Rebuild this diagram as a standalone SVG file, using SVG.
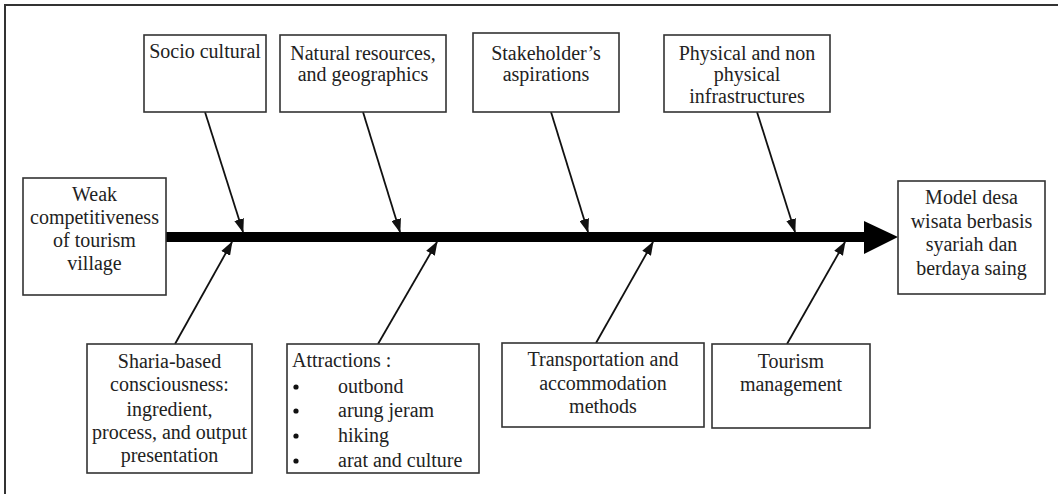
<svg xmlns="http://www.w3.org/2000/svg" width="1058" height="494" viewBox="0 0 1058 494">
<defs>
<style>
.box{fill:#fff;stroke:#333;stroke-width:1.6}
.t{font-family:'Liberation Serif','DejaVu Serif',serif;font-size:20px;fill:#222;text-anchor:middle}
.l{font-family:'Liberation Serif','DejaVu Serif',serif;font-size:20px;fill:#222}
.c{stroke:#111;stroke-width:1.8;fill:none;marker-end:url(#ah)}
</style>
<marker id="ah" markerWidth="14" markerHeight="10" refX="13" refY="5" orient="auto" markerUnits="userSpaceOnUse">
<path d="M0,0 L14,5 L0,10 Z" fill="#111"/>
</marker>
</defs>
<rect width="1058" height="494" fill="#fff"/>
<path d="M5,494 L5,5 L1058,5" fill="none" stroke="#333" stroke-width="2"/>
<g id="connectors">
<rect x="166" y="232" width="700" height="10" fill="#000"/>
<polygon points="864,221 898,237 864,254" fill="#000"/>
<line class="c" x1="205" y1="112" x2="243" y2="232"/>
<line class="c" x1="363" y1="112" x2="400" y2="232"/>
<line class="c" x1="551" y1="112" x2="588" y2="232"/>
<line class="c" x1="757" y1="112" x2="795" y2="232"/>
<line class="c" x1="175" y1="344" x2="232" y2="242"/>
<line class="c" x1="378" y1="344" x2="437" y2="242"/>
<line class="c" x1="596" y1="343" x2="653" y2="242"/>
<line class="c" x1="787" y1="344" x2="845" y2="242"/>
</g>
<g id="socio">
<rect class="box" x="144" y="35" width="122" height="77"/>
<text class="t" x="205" y="58">Socio cultural</text>
</g>
<g id="natural">
<rect class="box" x="280" y="35" width="166" height="77"/>
<text class="t" x="363" y="60">Natural resources,</text>
<text class="t" x="363" y="81">and geographics</text>
</g>
<g id="stakeholder">
<rect class="box" x="473" y="33" width="146" height="79"/>
<text class="t" x="546" y="60">Stakeholder’s</text>
<text class="t" x="546" y="81">aspirations</text>
</g>
<g id="physical">
<rect class="box" x="664" y="35" width="166" height="77"/>
<text class="t" x="747" y="60">Physical and non</text>
<text class="t" x="747" y="81">physical</text>
<text class="t" x="747" y="103">infrastructures</text>
</g>
<g id="weak">
<rect class="box" x="23" y="178" width="143" height="117"/>
<text class="t" x="94.5" y="201">Weak</text>
<text class="t" x="94.5" y="224">competitiveness</text>
<text class="t" x="94.5" y="247">of tourism</text>
<text class="t" x="94.5" y="270">village</text>
</g>
<g id="model">
<rect class="box" x="898" y="181" width="147" height="113"/>
<text class="t" x="971.5" y="204">Model desa</text>
<text class="t" x="971.5" y="228">wisata berbasis</text>
<text class="t" x="971.5" y="251">syariah dan</text>
<text class="t" x="971.5" y="275">berdaya saing</text>
</g>
<g id="sharia">
<rect class="box" x="87" y="344" width="165" height="129"/>
<text class="t" x="169.5" y="368">Sharia-based</text>
<text class="t" x="169.5" y="391">consciousness:</text>
<text class="t" x="169.5" y="416">ingredient,</text>
<text class="t" x="169.5" y="439">process, and output</text>
<text class="t" x="169.5" y="462">presentation</text>
</g>
<g id="attractions">
<rect class="box" x="287" y="344" width="192" height="129"/>
<text class="l" x="292" y="367">Attractions :</text>
<circle cx="296" cy="387" r="2.6" fill="#111"/>
<circle cx="296" cy="411" r="2.6" fill="#111"/>
<circle cx="296" cy="436" r="2.6" fill="#111"/>
<circle cx="296" cy="461" r="2.6" fill="#111"/>
<text class="l" x="338" y="393">outbond</text>
<text class="l" x="338" y="417">arung jeram</text>
<text class="l" x="338" y="442">hiking</text>
<text class="l" x="338" y="467">arat and culture</text>
</g>
<g id="transportation">
<rect class="box" x="502" y="343" width="202" height="84"/>
<text class="t" x="603" y="366">Transportation and</text>
<text class="t" x="603" y="390">accommodation</text>
<text class="t" x="603" y="413">methods</text>
</g>
<g id="tourism">
<rect class="box" x="712" y="344" width="158" height="84"/>
<text class="t" x="791" y="368">Tourism</text>
<text class="t" x="791" y="391">management</text>
</g>
</svg>
